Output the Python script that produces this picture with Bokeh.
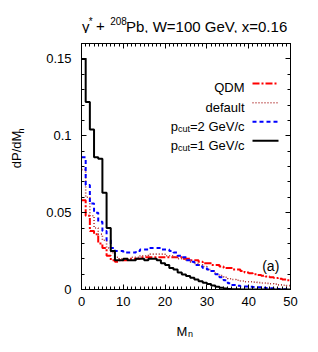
import numpy as np
from bokeh.plotting import figure
from bokeh.layouts import column, row
from bokeh.models import Range1d, FixedTicker, LinearAxis, Label
from bokeh.embed import file_html
from bokeh.resources import INLINE

# ---------------- data ----------------
m_edges = list(range(0, 51))

qdm = [0.058, 0.048, 0.038, 0.036, 0.030, 0.027, 0.022, 0.019, 0.018, 0.019,
       0.019, 0.020, 0.020, 0.020, 0.021, 0.021, 0.021, 0.021, 0.021, 0.021,
       0.021, 0.021, 0.021, 0.021, 0.020, 0.020, 0.019, 0.019, 0.018, 0.017,
       0.017, 0.016, 0.016, 0.015, 0.014, 0.014, 0.013, 0.013, 0.012, 0.011,
       0.0105, 0.010, 0.0095, 0.009, 0.0085, 0.008, 0.0075, 0.007, 0.0065, 0.006]

default = [0.078, 0.060, 0.048, 0.040, 0.036, 0.032, 0.027, 0.024, 0.021, 0.020,
           0.020, 0.020, 0.021, 0.021, 0.022, 0.022, 0.023, 0.023, 0.023, 0.023,
           0.022, 0.022, 0.021, 0.020, 0.020, 0.019, 0.018, 0.017, 0.016, 0.015,
           0.013, 0.012, 0.010, 0.009, 0.008, 0.007, 0.0065, 0.006, 0.0055, 0.005,
           0.005, 0.0048, 0.0045, 0.0042, 0.004, 0.0037, 0.0035, 0.003, 0.0028, 0.0025]

pcut2 = [0.086, 0.068, 0.056, 0.050, 0.044, 0.038, 0.032, 0.027, 0.025, 0.025,
         0.024, 0.024, 0.024, 0.025, 0.026, 0.026, 0.027, 0.027, 0.027, 0.026,
         0.026, 0.025, 0.024, 0.022, 0.021, 0.019, 0.018, 0.016, 0.015, 0.014,
         0.013, 0.012, 0.010, 0.008, 0.006, 0.004, 0.003, 0.0025, 0.002, 0.002,
         0.0018, 0.0016, 0.0015, 0.0012, 0.001, 0.0008, 0.0005, 0.0003, 0.0002, 0.0001]

pcut1 = [0.150, 0.122, 0.104, 0.086, 0.085, 0.063, 0.040, 0.025, 0.019, 0.019,
         0.020, 0.019, 0.019, 0.020, 0.020, 0.019, 0.020, 0.020, 0.019, 0.017,
         0.016, 0.014, 0.013, 0.011, 0.0098, 0.0087, 0.0076, 0.0065, 0.0053, 0.0044,
         0.0035, 0.0026, 0.0018, 0.0011, 0.0006, 0.0003, 0.0002, 0.0001, 0.0, 0.0,
         0.0, 0.0, 0.0, 0.0, 0.0, 0.0, 0.0, 0.0, 0.0, 0.0]

x_ticks = [0, 10, 20, 30, 40, 50]
y_ticks = [0, 0.05, 0.1, 0.15]
y_tick_labels = ["0", "0.05", "0.1", "0.15"]

series = [
    ("QDM", qdm, "#ff0000", "7 2 2 2", 2.0),
    ("default", default, "#b03030", "1 2", 1.6),
    ("pcut2", pcut2, "#0000ff", "4 3", 2.0),
    ("pcut1", pcut1, "#000000", "solid", 2.0),
]

FONT = "Liberation Sans"

# ---------------- layout (page px) ----------------
OFF = 1                               # page offset of the canvas
XMIN, XMAX, YMIN, YMAX = 0, 50, 0, 0.16
FL, FR, FT, FB = 82, 291, 44, 290     # frame of the main plot in page px
TOTAL_W = 316
TITLE_H = 33                          # page y OFF .. OFF+TITLE_H
YLAB_W = 40                           # page x OFF .. OFF+YLAB_W
MAIN_H = 282
XLAB_H = 35

def dx(px):
    return XMIN + (px - FL) * (XMAX - XMIN) / (FR - FL)

def dy(py):
    return YMIN + (FB - py) * (YMAX - YMIN) / (FB - FT)

def text_fig(x0, y0, w, h):
    f = figure(width=w, height=h, output_backend="svg", toolbar_location=None,
               title=None,
               x_range=Range1d(x0, x0 + w), y_range=Range1d(y0 + h, y0),
               x_axis_type=None, y_axis_type=None,
               min_border_left=0, min_border_right=0,
               min_border_top=0, min_border_bottom=0)
    f.grid.visible = False
    f.outline_line_color = None
    f.background_fill_color = "white"
    f.border_fill_color = "white"
    return f

def lab(fig, text, x, y, size, align="left", angle=0.0, baseline="alphabetic"):
    fig.add_layout(Label(x=x, y=y, text=text, text_font=FONT,
                         text_font_size=size, text_align=align,
                         text_baseline=baseline, text_color="black",
                         angle=angle))

# ---------------- main plot ----------------
MAIN_X0 = OFF + YLAB_W
MAIN_Y0 = OFF + TITLE_H
MAIN_W = TOTAL_W - YLAB_W
FW, FH = FR - FL, FB - FT
MBL = FL - MAIN_X0
MBT = FT - MAIN_Y0
p = figure(width=MAIN_W, height=MAIN_H, output_backend="svg", toolbar_location=None,
           title=None,
           x_range=Range1d(XMIN, XMAX), y_range=Range1d(YMIN, YMAX),
           min_border_left=MBL, min_border_right=MAIN_W - MBL - FW,
           min_border_top=MBT, min_border_bottom=MAIN_H - MBT - FH,
           frame_width=FW, frame_height=FH)
p.grid.visible = False
p.outline_line_color = "black"
p.outline_line_width = 1
p.background_fill_color = "white"
p.border_fill_color = "white"

def style_axis(ax, show_labels):
    ax.axis_line_color = "black"
    ax.major_tick_line_color = "black"
    ax.minor_tick_line_color = "black"
    ax.major_tick_in = 5
    ax.major_tick_out = 0
    ax.minor_tick_in = 3
    ax.minor_tick_out = 0
    ax.major_label_text_font = FONT
    ax.major_label_text_font_size = "13px"
    ax.major_label_text_color = "black"
    if not show_labels:
        ax.major_label_text_font_size = "0px"
        ax.major_label_standoff = 0

x_minor = list(range(0, 51))
y_minor = [round(0.01 * i, 2) for i in range(17)]

p.xaxis.ticker = FixedTicker(ticks=x_ticks, minor_ticks=x_minor)
p.yaxis.ticker = FixedTicker(ticks=y_ticks, minor_ticks=y_minor)
style_axis(p.xaxis[0], True)
style_axis(p.yaxis[0], True)
p.xaxis.major_label_standoff = 7
p.yaxis.major_label_standoff = 10
p.yaxis.major_label_overrides = {t: s for t, s in zip(y_ticks, y_tick_labels)}

top = LinearAxis(ticker=FixedTicker(ticks=x_ticks, minor_ticks=x_minor))
style_axis(top, False)
p.add_layout(top, "above")
right = LinearAxis(ticker=FixedTicker(ticks=y_ticks, minor_ticks=y_minor))
style_axis(right, False)
p.add_layout(right, "right")

for name, vals, col, dash, lw in series:
    p.step(x=m_edges, y=list(vals) + [vals[-1]], mode="after",
           line_color=col, line_dash=dash, line_width=lw)

def mlab(text, px, py, size, align="left"):
    lab(p, text, dx(px), dy(py), size, align)

mlab("(a)", 262.7, 266, "14px")

legend_rows = [
    ("QDM", None, 88.3, 84.0),
    ("default", None, 107.7, 103.3),
    ("=2 GeV/c", "cut", 126.5, 122.3),
    ("=1 GeV/c", "cut", 145.5, 141.3),
]
for (txt, sub, base, ly), (_, _, col, dash, lw) in zip(legend_rows, series):
    mlab(txt, 245, base, "13px", align="right")
    if sub:
        mlab(sub, 190.4, base + 3, "9px", align="right")
        mlab("p", 178.4, base, "13px", align="right")
    p.segment(x0=[dx(253)], y0=[dy(ly)], x1=[dx(279)], y1=[dy(ly)],
              line_color=col, line_dash=dash, line_width=lw)

# ---------------- title strip ----------------
tf = text_fig(OFF, OFF, TOTAL_W, TITLE_H)
lab(tf, "γ", 82.5, 26.5, "15px")
lab(tf, "*", 89.3, 21.5, "10px")
lab(tf, "+", 96.5, 26.5, "15px")
lab(tf, "208", 110.7, 21.0, "10px")
lab(tf, "Pb, W=100 GeV, x=0.16", 126.5, 26.5, "15px")

# ---------------- y label strip (rotated, centre anchored) ----------------
yf = text_fig(OFF, MAIN_Y0, YLAB_W, MAIN_H)
lab(yf, "dP/dM", 17.0, 155.5, "13px", align="center", angle=np.pi / 2, baseline="middle")
lab(yf, "n", 21.3, 134.2, "9px", align="center", angle=np.pi / 2, baseline="middle")

# ---------------- x label strip ----------------
xf = text_fig(OFF, MAIN_Y0 + MAIN_H, TOTAL_W, XLAB_H)
lab(xf, "M", 177, 331.5, "13px")
lab(xf, "n", 188.5, 334.5, "9px")

layout = column(tf, row(yf, p), xf)
open("out.html", "w").write(file_html(layout, INLINE))
